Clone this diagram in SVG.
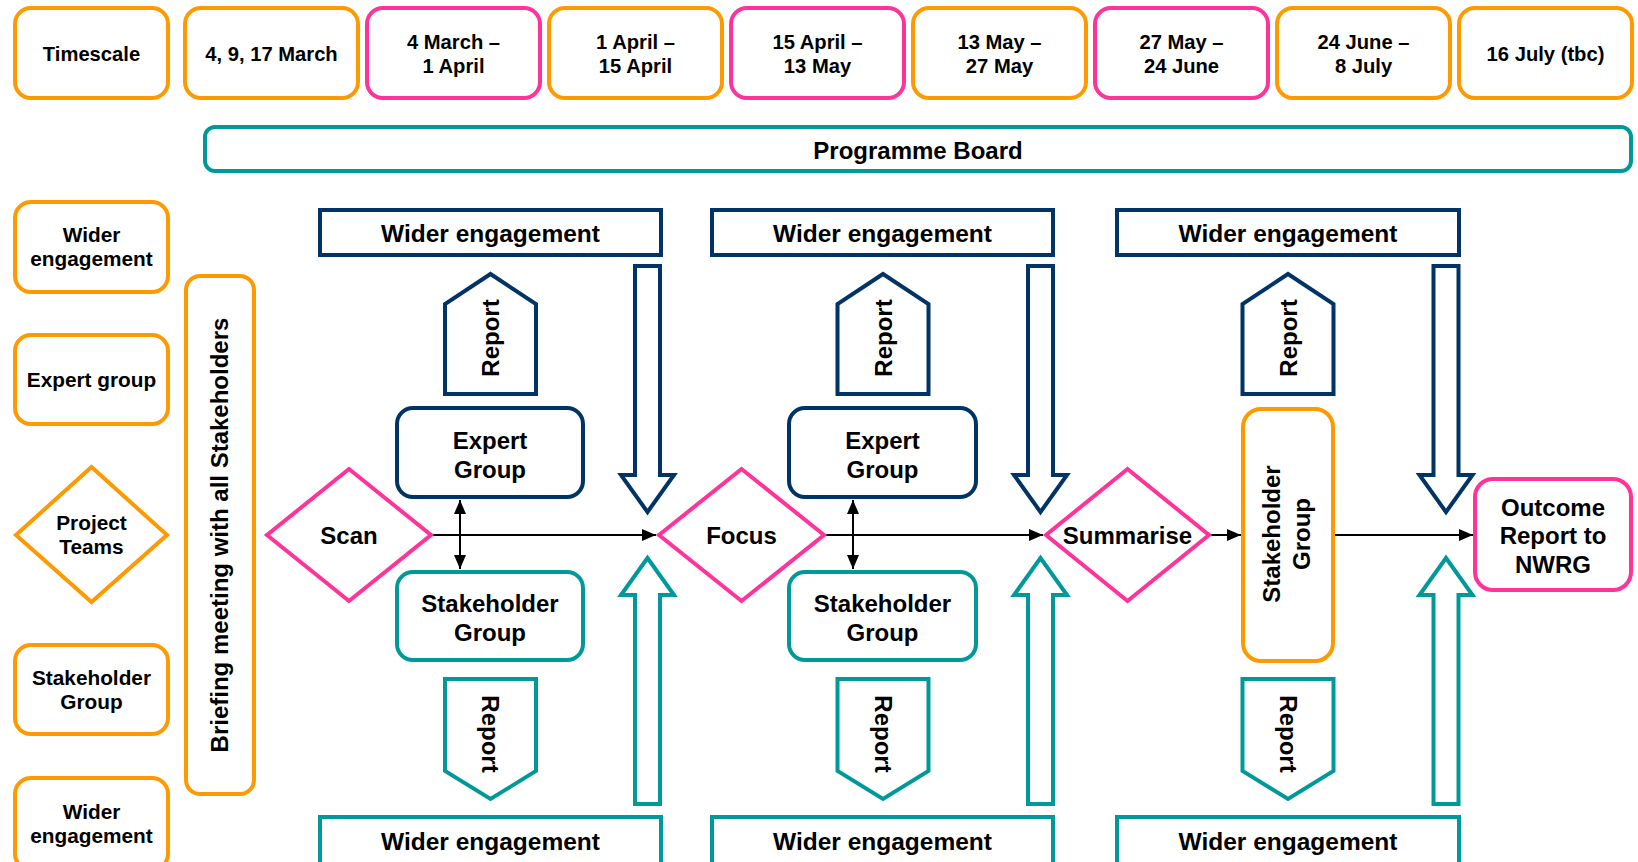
<svg xmlns="http://www.w3.org/2000/svg" width="1638" height="862" viewBox="0 0 1638 862">
  <style>
    text { font-family: "Liberation Sans", Arial, sans-serif; font-weight: bold; fill: #000; text-anchor: middle; }
    .t20 { font-size: 20.2px; }
    .t21 { font-size: 20.8px; }
    .t24 { font-size: 24px; }
    .t24w { font-size: 24.5px; }
    .orange { fill: #fff; stroke: #FF9900; stroke-width: 4; }
    .pink { fill: #fff; stroke: #FF3399; stroke-width: 4; }
    .teal { fill: #fff; stroke: #009999; stroke-width: 4; }
    .navy { fill: #fff; stroke: #003366; stroke-width: 4; }
    .flow { stroke: #000; stroke-width: 2; fill: none; }
  </style>
  <defs>
    <marker id="arrow" markerUnits="userSpaceOnUse" markerWidth="14" markerHeight="12" refX="14" refY="6" orient="auto-start-reverse">
      <path d="M0,0 L14,6 L0,12 Z" fill="#000"/>
    </marker>
    <!-- hollow block arrows, drawn around x=0 -->
    <path id="downArrow" d="M-12.5,266 L12.5,266 L12.5,475 L26.5,475 L0,512 L-26.5,475 L-12.5,475 Z"/>
    <path id="upArrow" d="M0,558 L26.5,595 L12.5,595 L12.5,804 L-12.5,804 L-12.5,595 L-26.5,595 Z"/>
    <!-- report tags, drawn around x=0 -->
    <path id="reportUp" d="M0,274 L45.5,304 L45.5,394 L-45.5,394 L-45.5,304 Z"/>
    <path id="reportDown" d="M-45.5,679 L45.5,679 L45.5,771 L0,799 L-45.5,771 Z"/>
  </defs>

  <rect width="1638" height="862" fill="#fff"/>

  <!-- timescale row -->
  <g id="timescale">
    <rect class="orange" x="15" y="8" width="153" height="90" rx="16"/>
    <text class="t20" x="91.5" y="61">Timescale</text>
  </g>
  <g id="ts-1">
    <rect class="orange" x="185" y="8" width="173" height="90" rx="16"/>
    <text class="t20" x="271.5" y="61">4, 9, 17 March</text>
  </g>
  <g id="ts-2">
    <rect class="pink" x="367" y="8" width="173" height="90" rx="16"/>
    <text class="t20" x="453.5" y="49">4 March –</text>
    <text class="t20" x="453.5" y="73">1 April</text>
  </g>
  <g id="ts-3">
    <rect class="orange" x="549" y="8" width="173" height="90" rx="16"/>
    <text class="t20" x="635.5" y="49">1 April –</text>
    <text class="t20" x="635.5" y="73">15 April</text>
  </g>
  <g id="ts-4">
    <rect class="pink" x="731" y="8" width="173" height="90" rx="16"/>
    <text class="t20" x="817.5" y="49">15 April –</text>
    <text class="t20" x="817.5" y="73">13 May</text>
  </g>
  <g id="ts-5">
    <rect class="orange" x="913" y="8" width="173" height="90" rx="16"/>
    <text class="t20" x="999.5" y="49">13 May –</text>
    <text class="t20" x="999.5" y="73">27 May</text>
  </g>
  <g id="ts-6">
    <rect class="pink" x="1095" y="8" width="173" height="90" rx="16"/>
    <text class="t20" x="1181.5" y="49">27 May –</text>
    <text class="t20" x="1181.5" y="73">24 June</text>
  </g>
  <g id="ts-7">
    <rect class="orange" x="1277" y="8" width="173" height="90" rx="16"/>
    <text class="t20" x="1363.5" y="49">24 June –</text>
    <text class="t20" x="1363.5" y="73">8 July</text>
  </g>
  <g id="ts-8">
    <rect class="orange" x="1459" y="8" width="173" height="90" rx="16"/>
    <text class="t20" x="1545.5" y="61">16 July (tbc)</text>
  </g>

  <!-- programme board -->
  <g id="programme-board">
    <rect class="teal" x="205" y="127" width="1426" height="44" rx="10"/>
    <text class="t24" x="918" y="158.5">Programme Board</text>
  </g>

  <!-- left legend column -->
  <g id="legend-wider-top">
    <rect class="orange" x="15" y="202" width="153" height="90" rx="16"/>
    <text class="t21" x="91.5" y="242">Wider</text>
    <text class="t21" x="91.5" y="266">engagement</text>
  </g>
  <g id="legend-expert">
    <rect class="orange" x="15" y="335" width="153" height="89" rx="16"/>
    <text class="t21" x="91.5" y="387">Expert group</text>
  </g>
  <g id="legend-project">
    <path class="orange" d="M91.5,467 L167,535 L91.5,602 L16,535 Z"/>
    <text class="t21" x="91.5" y="530">Project</text>
    <text class="t21" x="91.5" y="554">Teams</text>
  </g>
  <g id="legend-stakeholder">
    <rect class="orange" x="15" y="645" width="153" height="89" rx="16"/>
    <text class="t21" x="91.5" y="685">Stakeholder</text>
    <text class="t21" x="91.5" y="709">Group</text>
  </g>
  <g id="legend-wider-bottom">
    <rect class="orange" x="15" y="778" width="153" height="92" rx="16"/>
    <text class="t21" x="91.5" y="819">Wider</text>
    <text class="t21" x="91.5" y="843">engagement</text>
  </g>

  <!-- briefing meeting -->
  <g id="briefing">
    <rect class="orange" x="186" y="276" width="68" height="518" rx="14"/>
    <text class="t24" x="228" y="535" transform="rotate(-90 228 535)">Briefing meeting with all Stakeholders</text>
  </g>

  <!-- connectors -->
  <g id="connectors">
    <line class="flow" x1="433" y1="535" x2="656" y2="535" marker-end="url(#arrow)"/>
    <line class="flow" x1="826" y1="535" x2="1043" y2="535" marker-end="url(#arrow)"/>
    <line class="flow" x1="1211" y1="535" x2="1241" y2="535" marker-end="url(#arrow)"/>
    <line class="flow" x1="1335" y1="535" x2="1473" y2="535" marker-end="url(#arrow)"/>
    <line class="flow" x1="460" y1="500" x2="460" y2="569" marker-start="url(#arrow)" marker-end="url(#arrow)"/>
    <line class="flow" x1="853" y1="500" x2="853" y2="569" marker-start="url(#arrow)" marker-end="url(#arrow)"/>
  </g>

  <!-- phase 1: scan -->
  <g id="wider-top-1">
    <rect class="navy" x="320" y="210" width="341" height="45"/>
    <text class="t24w" x="490.5" y="241.5">Wider engagement</text>
  </g>
  <g id="report-up-1">
    <use href="#reportUp" class="navy" transform="translate(490.5 0)"/>
    <text class="t24" x="499" y="338" transform="rotate(-90 499 338)">Report</text>
  </g>
  <g id="expert-1">
    <rect class="navy" x="397" y="408" width="186" height="89" rx="16"/>
    <text class="t24" x="490" y="448.5">Expert</text>
    <text class="t24" x="490" y="477.5">Group</text>
  </g>
  <g id="scan">
    <path class="pink" d="M349,469 L431,535 L349,601 L267,535 Z"/>
    <text class="t24" x="349" y="543.5">Scan</text>
  </g>
  <g id="stakeholder-1">
    <rect class="teal" x="397" y="572" width="186" height="88" rx="16"/>
    <text class="t24" x="490" y="611.5">Stakeholder</text>
    <text class="t24" x="490" y="640.5">Group</text>
  </g>
  <g id="report-down-1">
    <use href="#reportDown" class="teal" transform="translate(490.5 0)"/>
    <text class="t24" x="482" y="734" transform="rotate(90 482 734)">Report</text>
  </g>
  <g id="wider-bottom-1">
    <rect class="teal" x="320" y="817" width="341" height="60"/>
    <text class="t24w" x="490.5" y="849.5">Wider engagement</text>
  </g>
  <g id="arrow-down-1"><use href="#downArrow" class="navy" transform="translate(647.5 0)"/></g>
  <g id="arrow-up-1"><use href="#upArrow" class="teal" transform="translate(647.5 0)"/></g>

  <!-- phase 2: focus -->
  <g id="wider-top-2">
    <rect class="navy" x="712" y="210" width="341" height="45"/>
    <text class="t24w" x="882.5" y="241.5">Wider engagement</text>
  </g>
  <g id="report-up-2">
    <use href="#reportUp" class="navy" transform="translate(883 0)"/>
    <text class="t24" x="891.5" y="338" transform="rotate(-90 891.5 338)">Report</text>
  </g>
  <g id="expert-2">
    <rect class="navy" x="789" y="408" width="187" height="89" rx="16"/>
    <text class="t24" x="882.5" y="448.5">Expert</text>
    <text class="t24" x="882.5" y="477.5">Group</text>
  </g>
  <g id="focus">
    <path class="pink" d="M741.5,469 L824,535 L741.5,601 L659,535 Z"/>
    <text class="t24" x="741.5" y="543.5">Focus</text>
  </g>
  <g id="stakeholder-2">
    <rect class="teal" x="789" y="572" width="187" height="88" rx="16"/>
    <text class="t24" x="882.5" y="611.5">Stakeholder</text>
    <text class="t24" x="882.5" y="640.5">Group</text>
  </g>
  <g id="report-down-2">
    <use href="#reportDown" class="teal" transform="translate(883 0)"/>
    <text class="t24" x="874.5" y="734" transform="rotate(90 874.5 734)">Report</text>
  </g>
  <g id="wider-bottom-2">
    <rect class="teal" x="712" y="817" width="341" height="60"/>
    <text class="t24w" x="882.5" y="849.5">Wider engagement</text>
  </g>
  <g id="arrow-down-2"><use href="#downArrow" class="navy" transform="translate(1040.5 0)"/></g>
  <g id="arrow-up-2"><use href="#upArrow" class="teal" transform="translate(1040.5 0)"/></g>

  <!-- phase 3: summarise -->
  <g id="wider-top-3">
    <rect class="navy" x="1117" y="210" width="342" height="45"/>
    <text class="t24w" x="1288" y="241.5">Wider engagement</text>
  </g>
  <g id="report-up-3">
    <use href="#reportUp" class="navy" transform="translate(1288 0)"/>
    <text class="t24" x="1296.5" y="338" transform="rotate(-90 1296.5 338)">Report</text>
  </g>
  <g id="summarise">
    <path class="pink" d="M1127.5,469 L1209,535 L1127.5,601 L1046,535 Z"/>
    <text class="t24" x="1127.5" y="543.5">Summarise</text>
  </g>
  <g id="stakeholder-3">
    <rect class="orange" x="1243" y="409" width="90" height="252" rx="18"/>
    <text class="t24" x="1280" y="534" transform="rotate(-90 1280 534)">Stakeholder</text>
    <text class="t24" x="1310" y="534" transform="rotate(-90 1310 534)">Group</text>
  </g>
  <g id="report-down-3">
    <use href="#reportDown" class="teal" transform="translate(1288 0)"/>
    <text class="t24" x="1279.5" y="734" transform="rotate(90 1279.5 734)">Report</text>
  </g>
  <g id="wider-bottom-3">
    <rect class="teal" x="1117" y="817" width="342" height="60"/>
    <text class="t24w" x="1288" y="849.5">Wider engagement</text>
  </g>
  <g id="arrow-down-3"><use href="#downArrow" class="navy" transform="translate(1446 0)"/></g>
  <g id="arrow-up-3"><use href="#upArrow" class="teal" transform="translate(1446 0)"/></g>

  <!-- outcome -->
  <g id="outcome">
    <rect class="pink" x="1475" y="479" width="156" height="111" rx="18"/>
    <text class="t24" x="1553" y="515.5">Outcome</text>
    <text class="t24" x="1553" y="543.5">Report to</text>
    <text class="t24" x="1553" y="572.5">NWRG</text>
  </g>
</svg>
